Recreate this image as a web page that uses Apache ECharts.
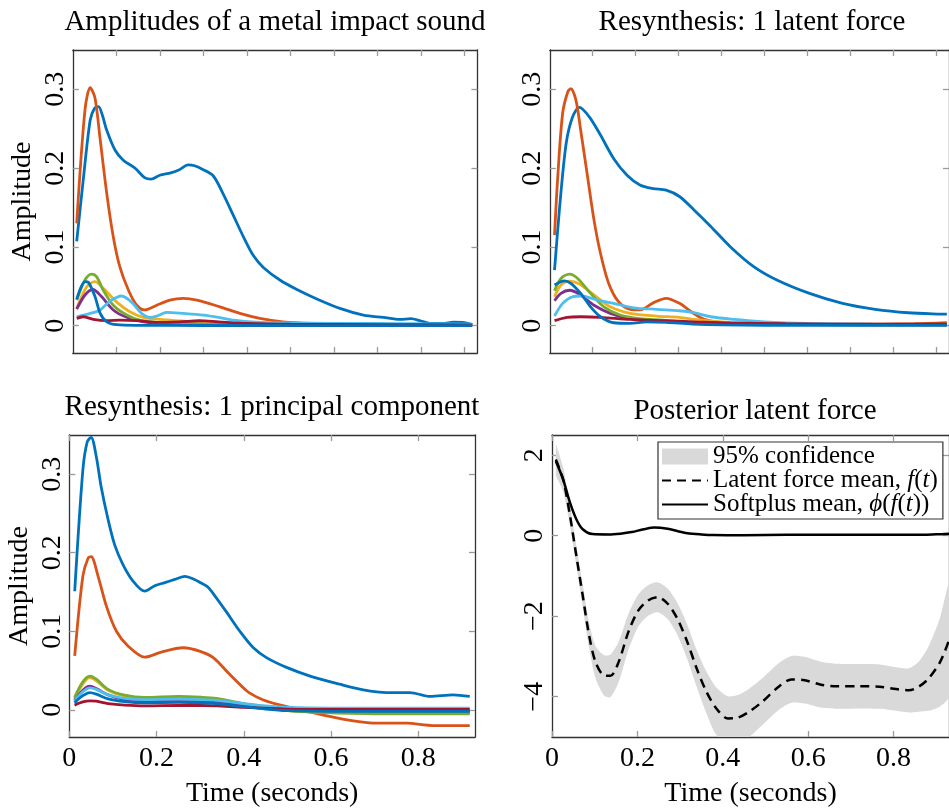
<!DOCTYPE html>
<html><head><meta charset="utf-8">
<script src="https://cdn.jsdelivr.net/npm/echarts@6/dist/echarts.min.js"></script>
<style>html,body{margin:0;padding:0;background:#fff}#c{width:949px;height:809px}</style>
</head><body><div id="c"></div>
<script>
// ---------- Panel titles ----------
const TITLES = ['Amplitudes of a metal impact sound', 'Resynthesis: 1 latent force',
                'Resynthesis: 1 principal component', 'Posterior latent force'];
const Y_NAME = 'Amplitude';
const X_NAME = 'Time (seconds)';

// ---------- Tick values ----------
const X_TICKS_TOP = [0.1, 0.2, 0.3, 0.4, 0.5, 0.6, 0.7, 0.8, 0.9];
const X_TICKS_BOTTOM = [0, 0.2, 0.4, 0.6, 0.8];
const Y_TICKS_AMP = [0, 0.1, 0.2, 0.3];
const Y_TICKS_FORCE = [-4, -2, 0, 2];

// ---------- Series names (8 frequency bands) ----------
const BAND_NAMES = ['Band 1', 'Band 2', 'Band 3', 'Band 4', 'Band 5', 'Band 6', 'Band 7', 'Band 8'];

// ---------- Panel 1: original amplitudes [time, amplitude] ----------
const tl_b1 = [[0.009,0.107],[0.024,0.185],[0.04,0.261],[0.05,0.276],[0.059,0.278],[0.068,0.267],[0.078,0.248],[0.097,0.223],[0.116,0.210],[0.143,0.200],[0.165,0.188],[0.18,0.186],[0.2,0.191],[0.225,0.194],[0.245,0.198],[0.265,0.204],[0.28,0.203],[0.3,0.198],[0.323,0.190],[0.345,0.168],[0.369,0.140],[0.392,0.113],[0.415,0.089],[0.438,0.074],[0.476,0.058],[0.515,0.046],[0.561,0.034],[0.614,0.022],[0.668,0.0135],[0.714,0.0105],[0.752,0.008],[0.777,0.009],[0.8,0.006],[0.821,0.003],[0.85,0.003],[0.875,0.0045],[0.9,0.004],[0.918,0.0015]];
const tl_b2 = [[0.009,0.130],[0.028,0.274],[0.040,0.302],[0.051,0.289],[0.063,0.236],[0.078,0.168],[0.093,0.113],[0.108,0.075],[0.128,0.045],[0.147,0.026],[0.166,0.020],[0.193,0.026],[0.223,0.0326],[0.254,0.0348],[0.285,0.0326],[0.338,0.024],[0.384,0.0157],[0.43,0.0094],[0.483,0.005],[0.55,0.003],[0.65,0.002],[0.75,0.0015],[0.85,0.001],[0.918,0.001]];
const tl_b3 = [[0.009,0.022],[0.032,0.0495],[0.051,0.056],[0.07,0.0475],[0.101,0.030],[0.131,0.0178],[0.162,0.0107],[0.2,0.008],[0.25,0.006],[0.3,0.004],[0.35,0.003],[0.45,0.002],[0.6,0.0015],[0.75,0.001],[0.918,0.001]];
const tl_b4 = [[0.009,0.021],[0.028,0.039],[0.046,0.046],[0.066,0.037],[0.093,0.020],[0.124,0.0107],[0.162,0.005],[0.2,0.0035],[0.3,0.002],[0.5,0.001],[0.918,0.001]];
const tl_b5 = [[0.009,0.0326],[0.028,0.058],[0.043,0.0656],[0.055,0.062],[0.07,0.045],[0.093,0.026],[0.124,0.0136],[0.154,0.007],[0.2,0.004],[0.3,0.002],[0.5,0.001],[0.918,0.0005]];
const tl_b6 = [[0.009,0.0114],[0.04,0.0157],[0.063,0.020],[0.085,0.031],[0.112,0.0377],[0.135,0.030],[0.158,0.0157],[0.177,0.0107],[0.193,0.0123],[0.216,0.017],[0.254,0.0157],[0.30,0.0136],[0.335,0.0107],[0.37,0.007],[0.42,0.0045],[0.5,0.0035],[0.6,0.003],[0.7,0.003],[0.8,0.0025],[0.918,0.002]];
const tl_b7 = [[0.009,0.0094],[0.024,0.0114],[0.047,0.008],[0.078,0.0064],[0.108,0.007],[0.147,0.0064],[0.193,0.0043],[0.245,0.005],[0.291,0.0064],[0.335,0.005],[0.4,0.003],[0.5,0.002],[0.7,0.0015],[0.918,0.001]];
const tl_b8 = [[0.009,0.0335],[0.028,0.056],[0.036,0.055],[0.051,0.037],[0.063,0.0157],[0.078,0.005],[0.101,0.0013],[0.15,0.0005],[0.3,0.0003],[0.918,0.0002]];

// ---------- Panel 2: latent force resynthesis ----------
const tr_b1 = [[0.011,0.0707],[0.023,0.151],[0.038,0.231],[0.053,0.265],[0.069,0.277],[0.092,0.265],[0.118,0.242],[0.149,0.212],[0.18,0.191],[0.21,0.1786],[0.241,0.174],[0.271,0.172],[0.302,0.164],[0.336,0.147],[0.375,0.126],[0.421,0.100],[0.475,0.075],[0.529,0.058],[0.605,0.041],[0.682,0.0284],[0.758,0.0208],[0.835,0.0165],[0.911,0.0148],[0.925,0.0147]];
const tr_b2 = [[0.011,0.115],[0.019,0.193],[0.030,0.27],[0.042,0.297],[0.049,0.301],[0.061,0.286],[0.072,0.248],[0.088,0.189],[0.103,0.134],[0.118,0.092],[0.137,0.054],[0.16,0.0305],[0.187,0.0208],[0.21,0.020],[0.241,0.029],[0.271,0.0348],[0.302,0.0284],[0.333,0.0165],[0.36,0.008],[0.4,0.004],[0.45,0.0025],[0.55,0.002],[0.7,0.002],[0.85,0.0025],[0.925,0.004]];
const tr_b3 = [[0.011,0.0368],[0.026,0.0517],[0.046,0.0567],[0.069,0.053],[0.103,0.039],[0.141,0.024],[0.187,0.0157],[0.249,0.0123],[0.302,0.0107],[0.336,0.008],[0.4,0.005],[0.5,0.003],[0.6,0.002],[0.75,0.0015],[0.925,0.0015]];
const tr_b4 = [[0.011,0.0317],[0.026,0.041],[0.046,0.045],[0.069,0.040],[0.103,0.026],[0.141,0.0157],[0.187,0.009],[0.25,0.006],[0.33,0.004],[0.45,0.0025],[0.6,0.0015],[0.925,0.001]];
const tr_b5 = [[0.011,0.0445],[0.026,0.060],[0.046,0.0656],[0.065,0.060],[0.095,0.041],[0.126,0.024],[0.164,0.0136],[0.21,0.009],[0.264,0.007],[0.333,0.0038],[0.45,0.002],[0.6,0.0015],[0.925,0.001]];
const tr_b6 = [[0.011,0.0123],[0.030,0.0284],[0.053,0.0368],[0.072,0.0377],[0.111,0.0326],[0.149,0.0284],[0.195,0.0228],[0.249,0.0208],[0.302,0.019],[0.336,0.0165],[0.375,0.0114],[0.43,0.008],[0.5,0.005],[0.6,0.003],[0.75,0.002],[0.925,0.0015]];
const tr_b7 = [[0.011,0.0064],[0.04,0.0107],[0.072,0.0114],[0.118,0.0107],[0.187,0.008],[0.264,0.0064],[0.336,0.005],[0.42,0.0035],[0.55,0.0025],[0.75,0.002],[0.925,0.002]];
const tr_b8 = [[0.011,0.0517],[0.034,0.057],[0.049,0.0538],[0.072,0.041],[0.095,0.024],[0.118,0.0114],[0.149,0.0038],[0.187,0.003],[0.225,0.005],[0.271,0.0043],[0.333,0.002],[0.4,0.001],[0.6,0.0005],[0.925,0.0005]];

// ---------- Panel 3: principal component resynthesis ----------
const bl_b1 = [[0.0124,0.151],[0.031,0.305],[0.041,0.341],[0.05,0.347],[0.062,0.322],[0.073,0.284],[0.089,0.242],[0.104,0.210],[0.123,0.185],[0.146,0.164],[0.173,0.151],[0.196,0.158],[0.219,0.162],[0.242,0.166],[0.265,0.170],[0.287,0.166],[0.30,0.162],[0.318,0.156],[0.337,0.1426],[0.361,0.124],[0.391,0.100],[0.422,0.079],[0.452,0.0665],[0.498,0.054],[0.552,0.043],[0.62,0.0326],[0.674,0.0254],[0.728,0.022],[0.781,0.022],[0.827,0.017],[0.88,0.019],[0.918,0.017]];
const bl_b2 = [[0.0124,0.0686],[0.031,0.170],[0.043,0.193],[0.05,0.195],[0.066,0.170],[0.085,0.132],[0.108,0.100],[0.135,0.081],[0.173,0.067],[0.211,0.0736],[0.261,0.079],[0.30,0.0745],[0.33,0.0665],[0.368,0.045],[0.407,0.024],[0.437,0.0145],[0.475,0.0072],[0.529,0],[0.59,-0.0076],[0.651,-0.014],[0.705,-0.017],[0.773,-0.017],[0.834,-0.020],[0.918,-0.020]];
const bl_b3 = [[0.012,0.014],[0.031,0.033],[0.047,0.041],[0.062,0.037],[0.089,0.025],[0.127,0.0175],[0.173,0.015],[0.25,0.016],[0.303,0.015],[0.337,0.0135],[0.4,0.007],[0.45,0.003],[0.5,-0.001],[0.6,-0.0035],[0.7,-0.004],[0.918,-0.004]];
const bl_b4 = [[0.012,0.012],[0.031,0.025],[0.047,0.030],[0.062,0.027],[0.089,0.019],[0.127,0.013],[0.173,0.011],[0.25,0.012],[0.303,0.011],[0.337,0.010],[0.4,0.006],[0.45,0.002],[0.5,0],[0.6,-0.002],[0.918,-0.002]];
const bl_b5 = [[0.012,0.0157],[0.031,0.0356],[0.047,0.043],[0.062,0.039],[0.089,0.026],[0.127,0.0186],[0.173,0.0157],[0.25,0.017],[0.303,0.016],[0.337,0.0145],[0.4,0.008],[0.45,0.003],[0.5,-0.001],[0.6,-0.004],[0.7,-0.005],[0.918,-0.005]];
const bl_b6 = [[0.012,0.011],[0.031,0.023],[0.047,0.028],[0.062,0.026],[0.089,0.019],[0.127,0.0145],[0.173,0.013],[0.25,0.0135],[0.303,0.013],[0.337,0.012],[0.4,0.008],[0.45,0.005],[0.5,0.003],[0.6,0.002],[0.918,0.002]];
const bl_b7 = [[0.012,0.006],[0.031,0.010],[0.047,0.0115],[0.062,0.011],[0.089,0.008],[0.127,0.006],[0.173,0.005],[0.25,0.0055],[0.303,0.0055],[0.337,0.005],[0.4,0.003],[0.5,0.001],[0.6,0.0005],[0.918,0.0005]];
const bl_b8 = [[0.012,0.009],[0.031,0.018],[0.047,0.022],[0.062,0.020],[0.089,0.014],[0.127,0.0105],[0.173,0.009],[0.25,0.0095],[0.303,0.009],[0.337,0.008],[0.4,0.004],[0.45,0.001],[0.5,-0.001],[0.6,-0.002],[0.918,-0.002]];

// ---------- Panel 4: posterior latent force ----------
const force_t     = [0.009,0.026,0.041,0.057,0.072,0.087,0.102,0.122,0.137,0.156,0.179,0.202,0.225,0.248,0.271,0.294,0.317,0.339,0.362,0.385,0.412,0.435,0.462,0.492,0.531,0.561,0.592,0.63,0.668,0.722,0.768,0.806,0.836,0.859,0.882,0.909,0.93];
const force_mean  = [1.89,1.40,0.57,-0.50,-1.49,-2.48,-3.14,-3.47,-3.48,-3.14,-2.39,-1.86,-1.61,-1.53,-1.69,-2.07,-2.64,-3.30,-3.88,-4.29,-4.54,-4.52,-4.37,-4.13,-3.75,-3.57,-3.59,-3.70,-3.74,-3.74,-3.75,-3.81,-3.84,-3.75,-3.55,-3.14,-2.60];
const force_upper = [2.29,1.70,0.82,-0.25,-1.21,-2.16,-2.74,-2.97,-2.95,-2.64,-1.94,-1.46,-1.23,-1.16,-1.31,-1.67,-2.21,-2.84,-3.38,-3.77,-3.99,-3.96,-3.80,-3.55,-3.17,-2.99,-3.01,-3.13,-3.18,-3.19,-3.20,-3.27,-3.29,-3.13,-2.75,-2.04,-1.20];
const force_lower = [1.49,1.10,0.32,-0.75,-1.77,-2.80,-3.54,-3.97,-4.01,-3.64,-2.84,-2.26,-1.99,-1.90,-2.07,-2.47,-3.07,-3.76,-4.42,-4.95,-5.15,-5.15,-5.00,-4.71,-4.33,-4.15,-4.17,-4.27,-4.30,-4.29,-4.30,-4.35,-4.39,-4.37,-4.35,-4.24,-4.00];
const soft_t    = [0.009,0.026,0.041,0.057,0.072,0.095,0.133,0.16,0.187,0.215,0.24,0.271,0.295,0.317,0.35,0.378,0.45,0.55,0.65,0.75,0.85,0.9,0.93];
const soft_mean = [1.85,1.40,0.86,0.41,0.16,0.04,0.03,0.05,0.09,0.16,0.20,0.17,0.11,0.06,0.03,0.015,0.01,0.02,0.02,0.02,0.02,0.035,0.05];
const LEGEND_NAMES = ['95% confidence', 'Latent force mean, f(t)', 'Softplus mean, \u03d5(f(t))'];

// ---------- Styling ----------
const FONT = 'Liberation Serif';
const COLORS = ['#0072BD','#D95319','#EDB120','#7E2F8E','#77AC30','#4DBEEE','#A2142F','#0072BD'];
const PANEL_DATA = [
  [tl_b1,tl_b2,tl_b3,tl_b4,tl_b5,tl_b6,tl_b7,tl_b8],
  [tr_b1,tr_b2,tr_b3,tr_b4,tr_b5,tr_b6,tr_b7,tr_b8],
  [bl_b1,bl_b2,bl_b3,bl_b4,bl_b5,bl_b6,bl_b7,bl_b8]
];
const GRIDS = [
  {left:72.8, top:50, width:404.6, height:303},
  {left:549.8, top:50, width:405, height:303},
  {left:69.3, top:435, width:405.7, height:303.3},
  {left:552, top:435, width:405.5, height:303.3}
];
const TITLE_POS = [[275,22],[752,22],[272,407],[755,411]];
const FRAME = '#333333', TICKC = '#9a9a9a';
const minus = v => String(v).replace('-', '\u2212');

const xAxis = [], yAxis = [], series = [];
GRIDS.forEach((g, gi) => {
  const bottomRow = gi >= 2;
  const xt = bottomRow ? X_TICKS_BOTTOM : X_TICKS_TOP;
  const yt = gi === 3 ? Y_TICKS_FORCE : Y_TICKS_AMP;
  const ymin = gi === 3 ? -5 : -0.0346, ymax = gi === 3 ? 2.5 : 0.3499;
  ['bottom','top'].forEach(pos => {
    const main = pos === 'bottom';
    xAxis.push({
      type:'value', gridIndex:gi, position:pos, min:0, max:0.93,
      axisLine:{show:true, onZero:false, lineStyle:{color:FRAME, width:1.3}},
      axisTick:{show:true, inside:true, length:6, customValues:xt, lineStyle:{color:TICKC, width:1.3}},
      axisLabel:{show: main && bottomRow, customValues:xt, margin:8, fontFamily:FONT, fontSize:28, color:'#000', formatter:minus},
      splitLine:{show:false},
      name: (main && bottomRow) ? X_NAME : '', nameLocation:'middle', nameGap:43,
      nameTextStyle:{fontFamily:FONT, fontSize:28, color:'#000'}
    });
  });
  ['left','right'].forEach(pos => {
    const main = pos === 'left';
    yAxis.push({
      type:'value', gridIndex:gi, position:pos, min:ymin, max:ymax,
      axisLine:{show:true, onZero:false, lineStyle:{color:FRAME, width:1.3}},
      axisTick:{show:true, inside:true, length:6, customValues:yt, lineStyle:{color:TICKC, width:1.3}},
      axisLabel:{show: main, customValues:yt, rotate:90, margin:3, fontFamily:FONT, fontSize:28, color:'#000', formatter:minus},
      splitLine:{show:false},
      name: (main && (gi === 0 || gi === 2)) ? Y_NAME : '', nameLocation:'middle', nameGap:36,
      nameTextStyle:{fontFamily:FONT, fontSize:28, color:'#000'}
    });
  });
});

PANEL_DATA.forEach((panel, pi) => {
  panel.forEach((d, si) => {
    series.push({
      type:'line', name: BAND_NAMES[si], xAxisIndex: 2*pi, yAxisIndex: 2*pi,
      data: d, symbol:'none', smooth:0.3, silent:true, z: 2 + si,
      lineStyle:{color:COLORS[si], width:2.8}, itemStyle:{color:COLORS[si]}
    });
  });
});

const zip = (a, b) => a.map((v, i) => [v, b[i]]);
// 95% confidence band: polygon through upper then lower bounds, placed via the axes' scales
series.push({
  type:'custom', name:LEGEND_NAMES[0], xAxisIndex:6, yAxisIndex:6, silent:true, z:2,
  data:[[force_t[0], force_mean[0]]],
  itemStyle:{color:'#d9d9d9'},
  renderItem: (params, api) => {
    const up = force_t.map((t, i) => api.coord([t, force_upper[i]]));
    const lo = force_t.map((t, i) => api.coord([t, force_lower[i]])).reverse();
    const cs = params.coordSys;
    return {
      type:'group',
      clipPath:{type:'rect', shape:{x:cs.x, y:cs.y, width:cs.width, height:cs.height}},
      children:[
        {type:'polyline', shape:{points: up.concat(lo), smooth:0.25}, style:{fill:'#d9d9d9', stroke:null}}
      ]
    };
  }
});
series.push({
  type:'line', name:LEGEND_NAMES[1], xAxisIndex:6, yAxisIndex:6,
  data: zip(force_t, force_mean), symbol:'none', smooth:0.3, silent:true,
  lineStyle:{color:'#000', width:2.5, type:[9,6]}, itemStyle:{color:'#000'}, z:4
});
series.push({
  type:'line', name:LEGEND_NAMES[2], xAxisIndex:6, yAxisIndex:6,
  data: zip(soft_t, soft_mean), symbol:'none', smooth:0.3, silent:true,
  lineStyle:{color:'#000', width:2.5}, itemStyle:{color:'#000'}, z:4
});

const LEGEND_RICH = {
  [LEGEND_NAMES[0]]: '95% confidence',
  [LEGEND_NAMES[1]]: 'Latent force mean, {i|f}({i|t})',
  [LEGEND_NAMES[2]]: 'Softplus mean, {i|\u03d5}({i|f}({i|t}))'
};

const option = {
  animation:false,
  backgroundColor:'#fff',
  textStyle:{fontFamily:FONT},
  grid: GRIDS.map(g => Object.assign({containLabel:false}, g)),
  title: TITLES.map((t, i) => ({
    text:t, left:TITLE_POS[i][0], top:TITLE_POS[i][1], padding:0,
    textAlign:'center', textVerticalAlign:'middle',
    textStyle:{fontFamily:FONT, fontSize:29, fontWeight:'normal', color:'#000'}
  })),
  legend: {
    data:[
      {name:LEGEND_NAMES[0], icon:'rect', itemStyle:{color:'#d9d9d9'}},
      {name:LEGEND_NAMES[1], itemStyle:{opacity:0}},
      {name:LEGEND_NAMES[2], itemStyle:{opacity:0}}
    ],
    orient:'vertical', left:658, top:442, itemWidth:46, itemHeight:16, itemGap:-1,
    padding:[2,5,2,3], borderColor:'#333', borderWidth:1.2, backgroundColor:'#fff',
    selectedMode:false, align:'left',
    formatter: n => LEGEND_RICH[n],
    textStyle:{fontFamily:FONT, fontSize:25, color:'#000',
      rich:{i:{fontFamily:FONT, fontSize:25, fontStyle:'italic', color:'#000'}}}
  },
  xAxis, yAxis, series
};
const chart = echarts.init(document.getElementById('c'), null, {renderer:'canvas'});
chart.setOption(option);
</script></body></html>
